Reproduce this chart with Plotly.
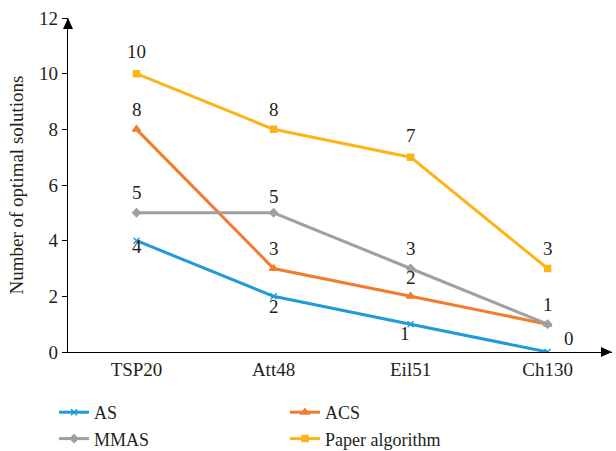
import plotly.graph_objects as go

# Benchmark instances and number of optimal solutions found by each algorithm
instances = ["TSP20", "Att48", "Eil51", "Ch130"]
as_vals = [4, 2, 1, 0]
acs_vals = [8, 3, 2, 1]
mmas_vals = [5, 5, 3, 1]
paper_vals = [10, 8, 7, 3]

series = [
    ("AS", as_vals, "#1F9BD7", "x-thin", 6),
    ("ACS", acs_vals, "#F27B2E", "triangle-up", 7),
    ("MMAS", mmas_vals, "#A0A0A0", "diamond", 6),
    ("Paper algorithm", paper_vals, "#FBB41A", "square", 6),
]

FONT = "Liberation Serif"
TXT = "#231F20"

fig = go.Figure()
for name, vals, color, sym, sz in series:
    fig.add_trace(go.Scatter(
        x=instances, y=vals, name=name, mode="lines+markers",
        line=dict(color=color, width=3),
        marker=dict(symbol=sym, size=sz, color=color,
                    line=dict(color=color, width=1.5)),
    ))

# value labels: (series values, per-point pixel offsets)
label_offsets = [
    (as_vals, [(0, -6), (0, -10), (-6, -9), (21, 14)]),
    (acs_vals, [(0, 20), (0, 20), (0, 19), (0, 20)]),
    (mmas_vals, [(0, 20), (0, 16), (0, 20), None]),
    (paper_vals, [(0, 22), (0, 20), (0, 22), (0, 20)]),
]
annotations = []
for vals, offs in label_offsets:
    for cat, v, off in zip(instances, vals, offs):
        if off is None:
            continue
        annotations.append(dict(
            x=cat, y=v, xref="x", yref="y", text=str(v), showarrow=False,
            xshift=off[0], yshift=off[1],
            font=dict(family=FONT, size=19, color=TXT),
        ))

# arrowheads at the ends of both axes
shapes = [
    dict(type="path", xref="x domain", yref="y domain",
         xsizemode="pixel", ysizemode="pixel", xanchor=0, yanchor=1,
         path="M -5,-11 L 5,-11 L 0,0 Z", fillcolor="black",
         line=dict(color="black", width=0)),
    dict(type="path", xref="x domain", yref="y domain",
         xsizemode="pixel", ysizemode="pixel", xanchor=1, yanchor=0,
         path="M -11,-5 L -11,5 L 0,0 Z", fillcolor="black",
         line=dict(color="black", width=0)),
]

fig.update_layout(
    width=616, height=451,
    margin=dict(l=68, r=4, t=18, b=99, autoexpand=False),
    paper_bgcolor="white", plot_bgcolor="white",
    font=dict(family=FONT, size=19, color=TXT),
    annotations=annotations,
    shapes=shapes,
    showlegend=True,
    legend=dict(
        orientation="h", xref="container", yref="container",
        x=54 / 616, xanchor="left", y=1 - 394 / 451, yanchor="top",
        entrywidth=186, entrywidthmode="pixels",
        font=dict(family=FONT, size=18, color=TXT),
        tracegroupgap=0, itemwidth=30,
    ),
    xaxis=dict(
        type="category", range=[-0.5, 3.47],
        showline=True, linecolor="black", linewidth=1.2,
        showgrid=False, zeroline=False, ticks="",
        tickfont=dict(family=FONT, size=19, color=TXT),
    ),
    yaxis=dict(
        range=[0, 12], tickvals=[0, 2, 4, 6, 8, 10, 12],
        showline=True, linecolor="black", linewidth=1.2,
        showgrid=False, zeroline=False,
        ticks="outside", ticklen=5, tickcolor="black",
        tickfont=dict(family=FONT, size=19, color=TXT),
        title=dict(text="Number of optimal solutions",
                   font=dict(family=FONT, size=19, color=TXT), standoff=10),
    ),
)

fig.write_html("out.html")
